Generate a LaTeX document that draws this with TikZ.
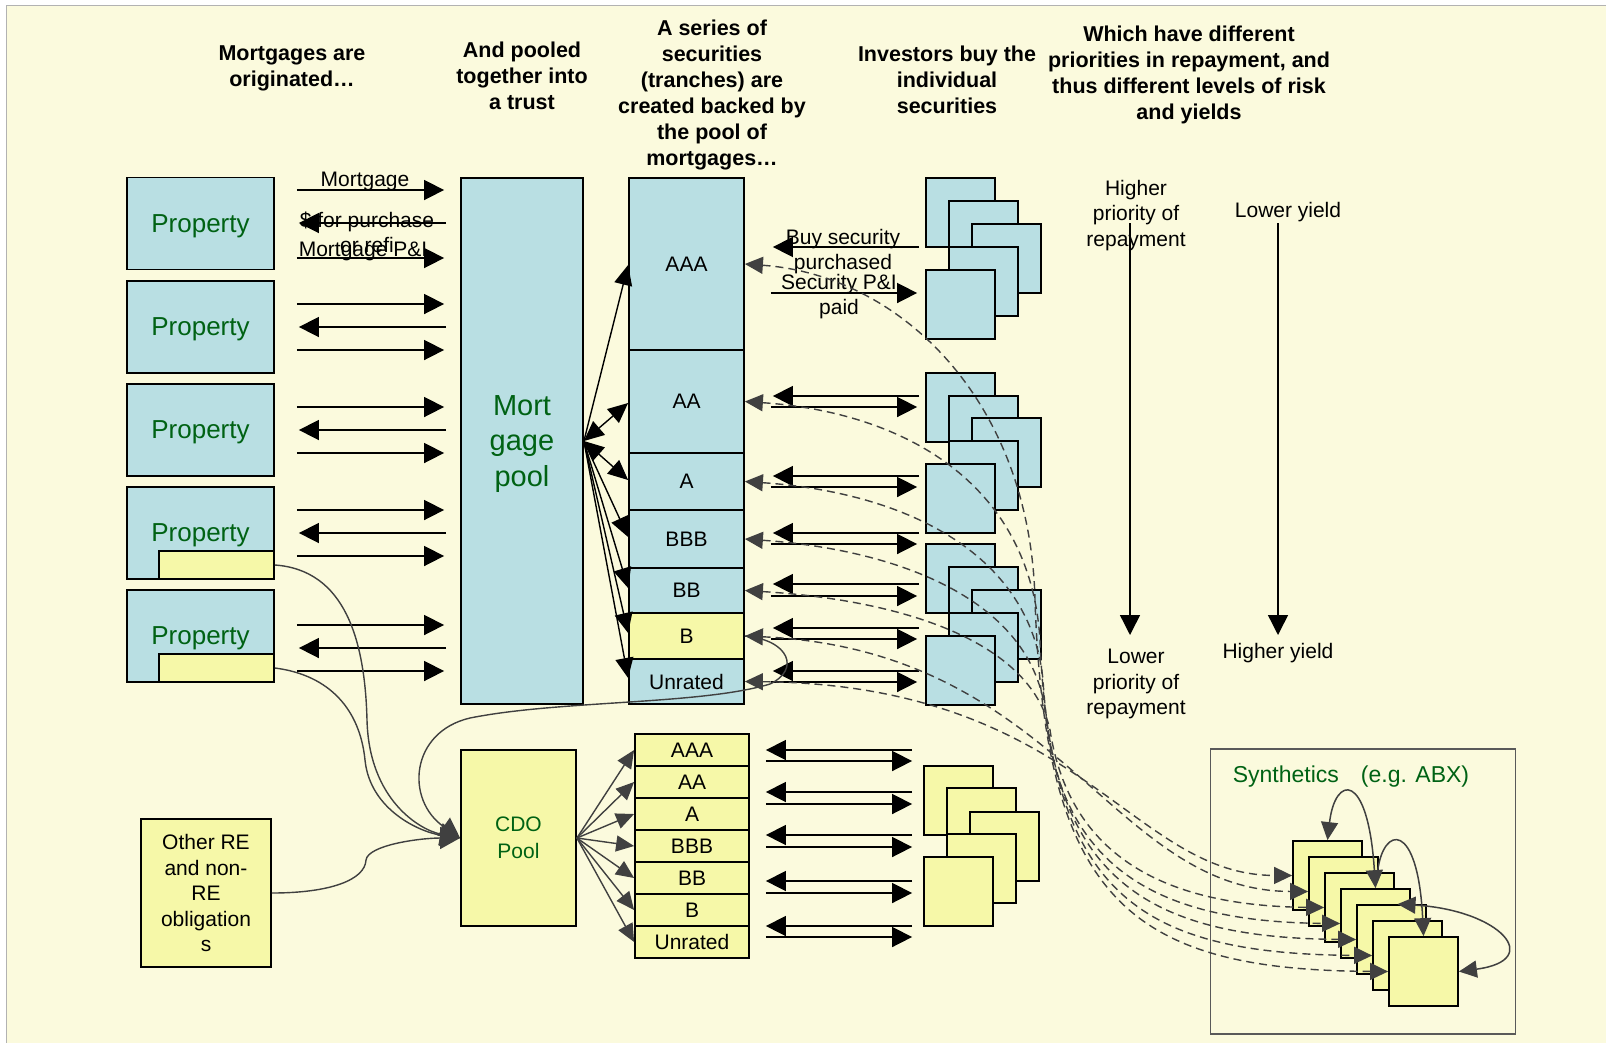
\documentclass[tikz,border=0pt]{standalone}
\usepackage{fontspec}
\setmainfont{Liberation Sans}
\usetikzlibrary{positioning,arrows.meta}

\definecolor{cream}{RGB}{251,250,221}
\definecolor{paleblue}{RGB}{185,223,227}
\definecolor{paleyellow}{RGB}{246,248,168}
\definecolor{leafgreen}{RGB}{0,98,20}
\definecolor{ink}{RGB}{64,64,64}

\newcommand{\fs}[2]{\fontsize{#1}{#2}\selectfont}

\begin{document}
\begin{tikzpicture}[x=1pt, y=-1pt,
    every node/.style={inner sep=0pt, font=\fs{21}{25.5}},
    box/.style={draw, line width=1.8pt, fill=paleblue},
    ybox/.style={draw, line width=1.8pt, fill=paleyellow},
    prop/.style={box, minimum width=147pt, minimum height=92pt, text=leafgreen, font=\fs{26}{30}, text depth=-2.5pt},
    tranche/.style={box, minimum width=115pt},
    ctranche/.style={ybox, minimum width=114pt, minimum height=32pt},
    card/.style={box, minimum width=69pt, minimum height=69pt},
    ycard/.style={ybox, minimum width=69pt, minimum height=69pt},
    heading/.style={align=center, font=\fs{21.5}{26}\bfseries},
    flow/.style={-{Triangle[length=20pt,width=20pt]}, line width=1.6pt},
    toright/.style={flow, shorten <=22pt, shorten >=16pt},
    toleft/.style={flow, shorten <=14pt, shorten >=24pt},
    buy/.style={flow, shorten <=6pt, shorten >=28pt},
    pay/.style={flow, shorten <=26pt, shorten >=8pt},
    cbuy/.style={flow, shorten <=11pt, shorten >=16pt},
    cpay/.style={flow, shorten <=16pt, shorten >=11pt},
    trline/.style={-{Triangle[length=20pt,width=18pt]}, line width=1.4pt},
    trsplit/.style={{Triangle[length=20pt,width=18pt]}-{Triangle[length=20pt,width=18pt]}, line width=1.4pt},
    feed/.style={-{Triangle[length=20pt,width=22pt]}, draw=ink, line width=1.4pt},
    cdosplit/.style={-{Triangle[length=18pt,width=16pt]}, draw=ink, line width=1.4pt},
    synlink/.style={{Triangle[length=18pt,width=17pt]}-{Triangle[length=18pt,width=17pt]}, draw=ink, dash pattern=on 8pt off 5pt, line width=1.4pt},
    loopline/.style={draw=ink, line width=1.5pt},
    bothtips/.style={{Triangle[length=18pt,width=17pt]}-{Triangle[length=18pt,width=17pt]}},
    endtip/.style={-{Triangle[length=18pt,width=17pt]}},
  ]
  \useasboundingbox (0,0) rectangle (1606,1042);
  \fill[white] (0,0) rectangle (1606,1042);
  \draw[fill=cream, draw=black!30, line width=1pt] (6,5) rectangle (1612,1048);

  % headings
  \node[heading] (hd1) at (292,68) {Mortgages are\\originated…};
  \node[heading] (hd2) at (522,76) {And pooled\\together into\\a trust};
  \node[heading] (hd3) at (712,95) {A series of\\securities\\(tranches) are\\created backed by\\the pool of\\mortgages…};
  \node[heading] (hd4) at (947,80) {Investors buy the\\individual\\securities};
  \node[heading] (hd5) at (1189,74.5) {Which have different\\priorities in repayment, and\\thus different levels of risk\\and yields};

  % properties
  \node[prop] (prop1) at (200.5,223.5) {Property};
  \node[prop] (prop2) at (200.5,327) {Property};
  \node[prop] (prop3) at (200.5,430) {Property};
  \node[prop] (prop4) at (200.5,533) {Property};
  \node[prop] (prop5) at (200.5,636) {Property};
  \node[ybox, minimum width=115pt, minimum height=28pt] (sub4) at (216.5,565) {};
  \node[ybox, minimum width=115pt, minimum height=28pt] (sub5) at (216.5,668) {};

  % mortgage pool and tranches
  \node[box, minimum width=122pt, minimum height=526pt, text=leafgreen, align=center, font=\fs{29}{35.5}, text depth=-4pt] (pool) at (522,441) {Mort\\gage\\pool};
  \node[tranche, minimum height=172pt] (taaa) at (686.5,264) {AAA};
  \node[tranche, minimum height=103pt] (taa) at (686.5,401.5) {AA};
  \node[tranche, minimum height=57pt] (ta) at (686.5,481.5) {A};
  \node[tranche, minimum height=58pt] (tbbb) at (686.5,539) {BBB};
  \node[tranche, minimum height=45pt] (tbb) at (686.5,590.5) {BB};
  \node[tranche, fill=paleyellow, minimum height=46pt] (tb) at (686.5,636) {B};
  \node[tranche, minimum height=45pt] (tun) at (686.5,681.5) {Unrated};

  % CDO
  \node[ybox, minimum width=115pt, minimum height=176pt, text=leafgreen, align=center, font=\fs{21}{27}] (cdo) at (518.5,838) {CDO\\Pool};
  \node[ctranche] (caaa) at (692,750) {AAA};
  \node[ctranche] (caa) at (692,782) {AA};
  \node[ctranche] (ca) at (692,814) {A};
  \node[ctranche] (cbbb) at (692,846) {BBB};
  \node[ctranche] (cbb) at (692,878) {BB};
  \node[ctranche] (cb) at (692,910) {B};
  \node[ctranche] (cun) at (692,942) {Unrated};
  \node[ybox, minimum width=130pt, minimum height=148pt, align=center] (other) at (206,893) {Other RE\\and non-\\RE\\obligation\\s};

  % investors
  \node[card] (inv1a) at (960.5,212.5) {};
  \node[card] (inv1b) at (983.5,235.5) {};
  \node[card] (inv1c) at (1006.5,258.5) {};
  \node[card] (inv1d) at (983.5,281.5) {};
  \node[card] (inv1e) at (960.5,304.5) {};
  \node[card] (inv2a) at (960.5,407.5) {};
  \node[card] (inv2b) at (983.5,430.5) {};
  \node[card] (inv2c) at (1006.5,452.5) {};
  \node[card] (inv2d) at (983.5,475.5) {};
  \node[card] (inv2e) at (960.5,498.5) {};
  \node[card] (inv3a) at (960.5,578.5) {};
  \node[card] (inv3b) at (983.5,601.5) {};
  \node[card] (inv3c) at (1006.5,624.5) {};
  \node[card] (inv3d) at (983.5,647.5) {};
  \node[card] (inv3e) at (960.5,670.5) {};
  \node[ycard] (cinva) at (958.5,800.5) {};
  \node[ycard] (cinvb) at (981.5,822.5) {};
  \node[ycard] (cinvc) at (1004.5,846.5) {};
  \node[ycard] (cinvd) at (981.5,868.5) {};
  \node[ycard] (cinve) at (958.5,891.5) {};

  % synthetics
  \node[draw=black!65, line width=1.5pt, minimum width=305pt, minimum height=285pt] (synframe) at (1363,891.5) {};
  \node[text=leafgreen, font=\fs{23}{27}] (synlabel) at (1351,777) {Synthetics\hspace{22pt}(e.g. ABX)};
  \node[ycard] (syn1) at (1327.5,875.5) {};
  \node[ycard] (syn2) at (1343.5,891.5) {};
  \node[ycard] (syn3) at (1359.5,907.5) {};
  \node[ycard] (syn4) at (1375.5,923.5) {};
  \node[ycard] (syn5) at (1391.5,939.5) {};
  \node[ycard] (syn6) at (1407.5,955.5) {};
  \node[ycard] (syn7) at (1423.5,971.5) {};

  % priority and yield
  \node[align=center] (hiprio) at (1136,215.5) {Higher\\priority of\\repayment};
  \node[align=center] (loprio) at (1136,684) {Lower\\priority of\\repayment};
  \node (loyield) at (1288,212) {Lower yield};
  \node (hiyield) at (1278,653) {Higher yield};
  \coordinate (priotop) at (1130,223);
  \coordinate (priobot) at (1130,635);
  \coordinate (yieldtop) at (1278,223);
  \coordinate (yieldbot) at (1278,635);
  \draw[flow, line width=1.4pt] (priotop) -- (priobot);
  \draw[flow, line width=1.4pt] (yieldtop) -- (yieldbot);

  % origination flows
  \draw[toright] (prop1.east |- 0,190) -- (pool.west |- 0,190);
  \draw[toleft] (pool.west |- 0,223) -- (prop1.east |- 0,223);
  \draw[toright] (prop1.east |- 0,258) -- (pool.west |- 0,258);
  \draw[toright] (prop2.east |- 0,304) -- (pool.west |- 0,304);
  \draw[toleft] (pool.west |- 0,327) -- (prop2.east |- 0,327);
  \draw[toright] (prop2.east |- 0,350) -- (pool.west |- 0,350);
  \draw[toright] (prop3.east |- 0,407) -- (pool.west |- 0,407);
  \draw[toleft] (pool.west |- 0,430) -- (prop3.east |- 0,430);
  \draw[toright] (prop3.east |- 0,453) -- (pool.west |- 0,453);
  \draw[toright] (prop4.east |- 0,510) -- (pool.west |- 0,510);
  \draw[toleft] (pool.west |- 0,533) -- (prop4.east |- 0,533);
  \draw[toright] (prop4.east |- 0,556) -- (pool.west |- 0,556);
  \draw[toright] (prop5.east |- 0,625) -- (pool.west |- 0,625);
  \draw[toleft] (pool.west |- 0,648) -- (prop5.east |- 0,648);
  \draw[toright] (prop5.east |- 0,671) -- (pool.west |- 0,671);
  \node (lbmort) at (365,181) {Mortgage};
  \node[align=center] (lbcash) at (367,232.5) {\$ for purchase\\or refi};
  \node (lbpi) at (363,251) {Mortgage P\&I};

  % pool to tranches
  \draw[trline] (pool.east) -- (taaa.west |- 0,265);
  \draw[trsplit] (pool.east) -- (taa.west |- 0,403);
  \draw[trsplit] (pool.east) -- (ta.west |- 0,480);
  \draw[trline] (pool.east) -- (tbbb.west |- 0,537);
  \draw[trline] (pool.east) -- (tbb.west |- 0,588);
  \draw[trline] (pool.east) -- (tb.west |- 0,633);
  \draw[trline] (pool.east) -- (tun.west |- 0,678);

  % tranches to investors
  \draw[buy] (inv1e.west |- 0,247) -- (taaa.east |- 0,247);
  \draw[pay] (taaa.east |- 0,293) -- (inv1e.west |- 0,293);
  \draw[buy] (inv2a.west |- 0,396) -- (taa.east |- 0,396);
  \draw[pay] (taa.east |- 0,407) -- (inv2a.west |- 0,407);
  \draw[buy] (inv2e.west |- 0,476) -- (ta.east |- 0,476);
  \draw[pay] (ta.east |- 0,487) -- (inv2e.west |- 0,487);
  \draw[buy] (inv3a.west |- 0,533) -- (tbbb.east |- 0,533);
  \draw[pay] (tbbb.east |- 0,544) -- (inv3a.west |- 0,544);
  \draw[buy] (inv3a.west |- 0,584) -- (tbb.east |- 0,584);
  \draw[pay] (tbb.east |- 0,596) -- (inv3a.west |- 0,596);
  \draw[buy] (inv3e.west |- 0,628) -- (tb.east |- 0,628);
  \draw[pay] (tb.east |- 0,639) -- (inv3e.west |- 0,639);
  \draw[buy] (inv3e.west |- 0,671) -- (tun.east |- 0,671);
  \draw[pay] (tun.east |- 0,682) -- (inv3e.west |- 0,682);
  \node[align=center] (lbbuy) at (843,251.5) {Buy security\\purchased};
  \node[align=center] (lbpaid) at (839,296.5) {Security P\&I\\paid};

  % CDO splits and investors
  \draw[cdosplit] (cdo.east) -- (caaa.west);
  \draw[cdosplit] (cdo.east) -- (caa.west);
  \draw[cdosplit] (cdo.east) -- (ca.west);
  \draw[cdosplit] (cdo.east) -- (cbbb.west);
  \draw[cdosplit] (cdo.east) -- (cbb.west);
  \draw[cdosplit] (cdo.east) -- (cb.west);
  \draw[cdosplit] (cdo.east) -- (cun.west);
  \draw[cbuy] (cinva.west |- 0,750) -- (caaa.east |- 0,750);
  \draw[cpay] (caaa.east |- 0,761) -- (cinva.west |- 0,761);
  \draw[cbuy] (cinva.west |- 0,792) -- (caaa.east |- 0,792);
  \draw[cpay] (caaa.east |- 0,804) -- (cinva.west |- 0,804);
  \draw[cbuy] (cinva.west |- 0,835) -- (caaa.east |- 0,835);
  \draw[cpay] (caaa.east |- 0,847) -- (cinva.west |- 0,847);
  \draw[cbuy] (cinve.west |- 0,881) -- (caaa.east |- 0,881);
  \draw[cpay] (caaa.east |- 0,893) -- (cinve.west |- 0,893);
  \draw[cbuy] (cinve.west |- 0,926) -- (caaa.east |- 0,926);
  \draw[cpay] (caaa.east |- 0,937) -- (cinve.west |- 0,937);

  % feeds into the CDO pool
  \draw[feed] (sub4.east) .. controls (345,570) and (365,640) .. (367,720) .. controls (369,800) and (420,830) .. (cdo.west);
  \draw[feed] (sub5.east) .. controls (330,675) and (360,710) .. (365,760) .. controls (370,810) and (420,832) .. (cdo.west);
  \draw[feed] (other.east) .. controls (330,893) and (365,880) .. (366,860) .. controls (368,845) and (420,838) .. (cdo.west);
  \draw[feed] (tb.east) .. controls (790,640) and (800,670) .. (770,684) .. controls (700,705) and (560,700) .. (470,718) .. controls (410,732) and (405,800) .. (cdo.west);

  % tranches to synthetics
  \draw[synlink] (taaa.east) .. controls (900,275) and (1030,400) .. (1035,600) .. controls (1045,900) and (1130,970) .. (syn7.west);
  \draw[synlink] (taa.east) .. controls (900,412) and (1030,480) .. (1040,640) .. controls (1050,895) and (1140,954) .. (syn6.west);
  \draw[synlink] (ta.east) .. controls (900,492) and (1030,550) .. (1043,680) .. controls (1055,880) and (1150,938) .. (syn5.west);
  \draw[synlink] (tbbb.east) .. controls (900,550) and (1030,600) .. (1045,710) .. controls (1060,870) and (1160,922) .. (syn4.west);
  \draw[synlink] (tbb.east) .. controls (900,600) and (1030,640) .. (1050,730) .. controls (1070,860) and (1170,906) .. (syn3.west);
  \draw[synlink] (tb.east) .. controls (1060,650) and (1110,891) .. (syn2.west);
  \draw[synlink] (tun.east) .. controls (1080,685) and (1130,875) .. (syn1.west);

  % swaps between synthetics
  \draw[loopline, bothtips] (syn1.north) .. controls (1335,775) and (1368,770) .. (syn4.north);
  \draw[loopline, endtip] ([xshift=18pt]syn3.north) .. controls (1383,825) and (1418,820) .. (syn7.north);
  \draw[loopline, bothtips] ([xshift=6pt]syn5.north) .. controls (1500,910) and (1545,960) .. (syn7.east);
\end{tikzpicture}
\end{document}
